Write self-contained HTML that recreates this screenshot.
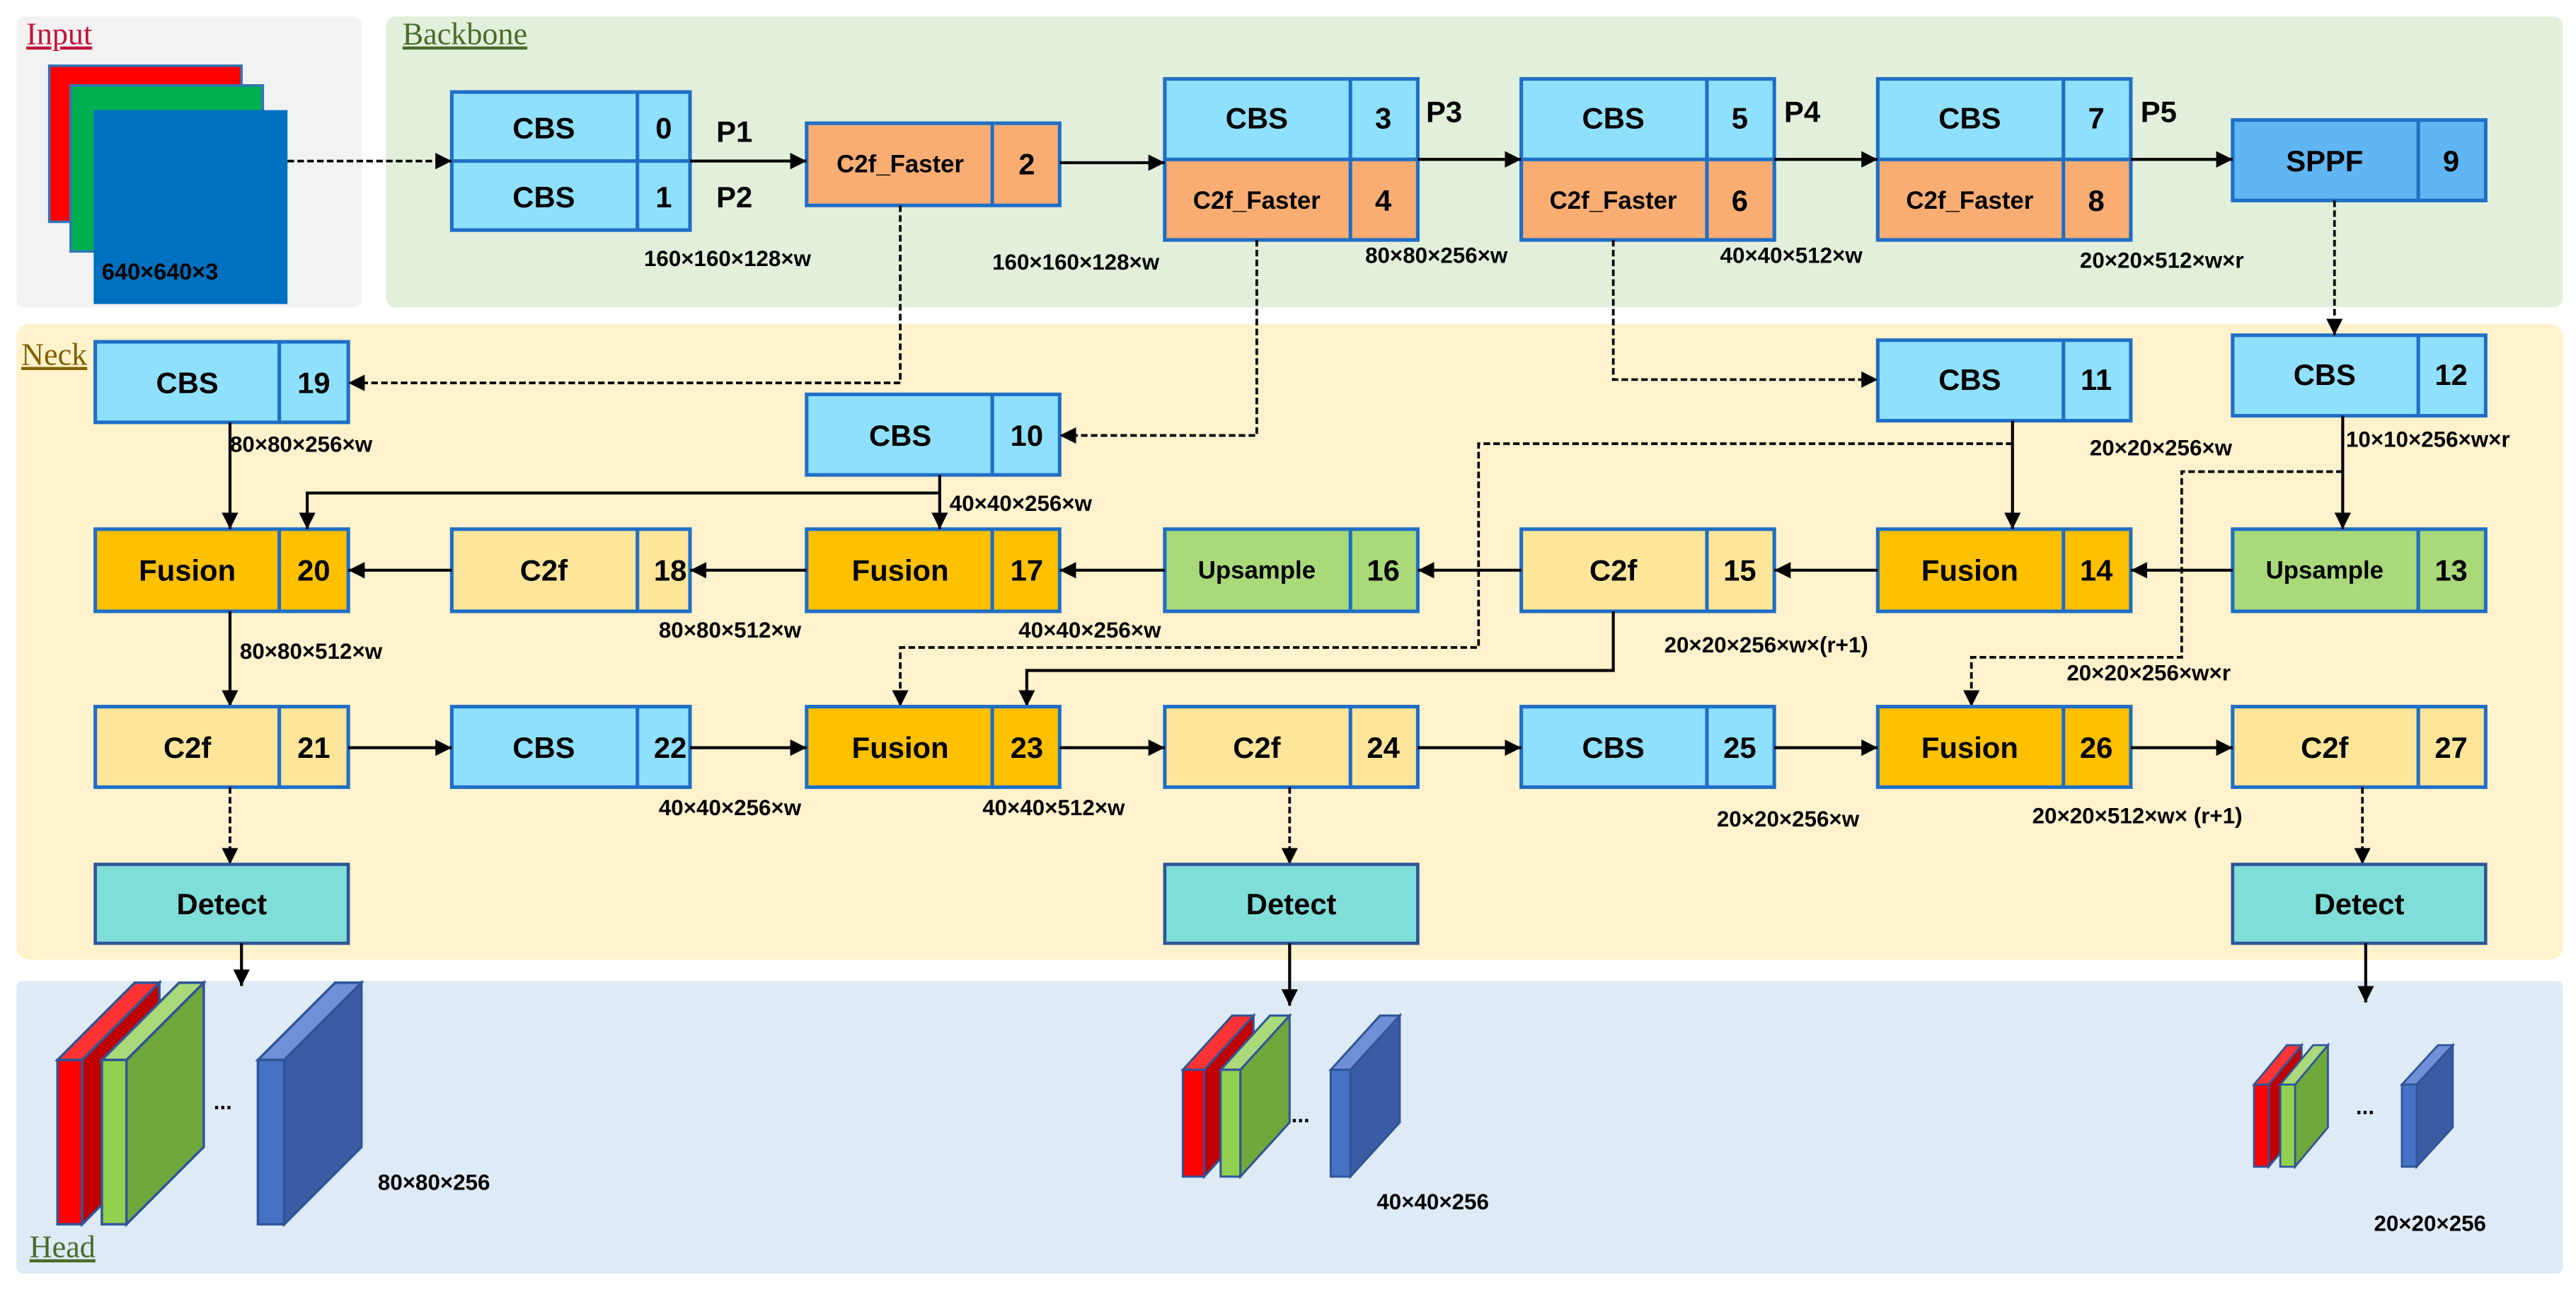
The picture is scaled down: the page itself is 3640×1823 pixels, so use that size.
<!DOCTYPE html>
<html><head><meta charset="utf-8"><style>
html,body{margin:0;padding:0;background:#fff;}
svg{display:block;}
text{font-family:"Liberation Sans",Arial,sans-serif;font-weight:bold;fill:#000;}
.m{font-size:18px;text-anchor:middle;dominant-baseline:central;}
.s{font-size:15px;text-anchor:middle;dominant-baseline:central;}
.l{font-size:13.5px;}
.b{stroke:#1f6fc5;stroke-width:2.2;}
.ln{stroke:#000;stroke-width:1.8;fill:none;}
.d{stroke:#000;stroke-width:1.6;fill:none;stroke-dasharray:4,2;}
.tt{font-family:"Liberation Serif",serif;font-weight:normal;font-size:19px;}
</style></head><body>
<svg width="3640" height="1823" viewBox="0 0 1568 785" preserveAspectRatio="none" xmlns="http://www.w3.org/2000/svg">
<defs>
<marker id="a" markerUnits="userSpaceOnUse" markerWidth="12" markerHeight="12" refX="10" refY="5" orient="auto"><path d="M0,0 L10,5 L0,10 z" fill="#000"/></marker>
</defs>
<!-- panels -->
<rect x="10" y="10" width="210" height="177" rx="5" fill="#f2f2f2"/>
<rect x="235" y="10" width="1325" height="177" rx="6" fill="#e2efda"/>
<rect x="10" y="197" width="1550" height="387" rx="8" fill="#fff2cc"/>
<rect x="10" y="597" width="1550" height="178" rx="4" fill="#deeaf6"/>
<!-- titles -->
<text x="16" y="27" class="tt" fill="#c00000" style="fill:#c0143c;text-decoration:underline">Input</text>
<text x="245" y="27" class="tt" style="fill:#4a6b2b;text-decoration:underline">Backbone</text>
<text x="13" y="222" class="tt" style="fill:#7f6000;text-decoration:underline">Neck</text>
<text x="18" y="765" class="tt" style="fill:#4a6b2b;text-decoration:underline">Head</text>
<!-- input stack -->
<rect x="30" y="40" width="117" height="95" fill="#ff0000" stroke="#2e75b6" stroke-width="1.5"/>
<rect x="43" y="52" width="117" height="101" fill="#00b050" stroke="#2e75b6" stroke-width="1.5"/>
<rect x="57" y="67" width="118" height="118" fill="#0070c0"/>
<text x="62" y="170" class="l" style="font-size:14px">640×640×3</text>

<!-- backbone blocks -->
<g>
<rect x="275" y="56" width="145" height="84" fill="#8fe0ff" class="b"/>
<line x1="275" y1="98" x2="420" y2="98" class="b"/><line x1="388" y1="56" x2="388" y2="140" class="b"/>
<text x="331" y="78" class="m">CBS</text><text x="404" y="78" class="m">0</text>
<text x="331" y="120" class="m">CBS</text><text x="404" y="120" class="m">1</text>
</g>
<text x="436" y="80" class="m" style="text-anchor:start">P1</text>
<text x="436" y="120" class="m" style="text-anchor:start">P2</text>

<rect x="491" y="75" width="154" height="50" fill="#f9ad73" class="b"/><line x1="604" y1="75" x2="604" y2="125" class="b"/>
<text x="548" y="100" class="s">C2f_Faster</text><text x="625" y="100" class="m">2</text>

<rect x="709" y="48" width="154" height="98" fill="#8fe0ff" class="b"/>
<rect x="709" y="97" width="154" height="49" fill="#f9ad73" class="b"/><line x1="822" y1="48" x2="822" y2="146" class="b"/>
<text x="765" y="72" class="m">CBS</text><text x="842" y="72" class="m">3</text>
<text x="765" y="122" class="s">C2f_Faster</text><text x="842" y="122" class="m">4</text>
<text x="868" y="68" class="m" style="text-anchor:start">P3</text>

<rect x="926" y="48" width="154" height="98" fill="#8fe0ff" class="b"/>
<rect x="926" y="97" width="154" height="49" fill="#f9ad73" class="b"/><line x1="1039" y1="48" x2="1039" y2="146" class="b"/>
<text x="982" y="72" class="m">CBS</text><text x="1059" y="72" class="m">5</text>
<text x="982" y="122" class="s">C2f_Faster</text><text x="1059" y="122" class="m">6</text>
<text x="1086" y="68" class="m" style="text-anchor:start">P4</text>

<rect x="1143" y="48" width="154" height="98" fill="#8fe0ff" class="b"/>
<rect x="1143" y="97" width="154" height="49" fill="#f9ad73" class="b"/><line x1="1256" y1="48" x2="1256" y2="146" class="b"/>
<text x="1199" y="72" class="m">CBS</text><text x="1276" y="72" class="m">7</text>
<text x="1199" y="122" class="s">C2f_Faster</text><text x="1276" y="122" class="m">8</text>
<text x="1303" y="68" class="m" style="text-anchor:start">P5</text>

<rect x="1359" y="73" width="154" height="49" fill="#5fb6f2" class="b"/><line x1="1472" y1="73" x2="1472" y2="122" class="b"/>
<text x="1415" y="98" class="m" fill="#000">SPPF</text><text x="1492" y="98" class="m">9</text>

<text x="392" y="162" class="l">160×160×128×w</text>
<text x="604" y="164" class="l">160×160×128×w</text>
<text x="831" y="160" class="l">80×80×256×w</text>
<text x="1047" y="160" class="l">40×40×512×w</text>
<text x="1266" y="163" class="l">20×20×512×w×r</text>

<!-- backbone arrows -->
<line x1="175" y1="98" x2="275" y2="98" class="d" marker-end="url(#a)"/>
<line x1="420" y1="98" x2="491" y2="98" class="ln" marker-end="url(#a)"/>
<line x1="645" y1="99" x2="709" y2="99" class="ln" marker-end="url(#a)"/>
<line x1="863" y1="97" x2="926" y2="97" class="ln" marker-end="url(#a)"/>
<line x1="1080" y1="97" x2="1143" y2="97" class="ln" marker-end="url(#a)"/>
<line x1="1297" y1="97" x2="1359" y2="97" class="ln" marker-end="url(#a)"/>

<!-- neck row 2 -->
<rect x="58" y="208" width="154" height="49" fill="#8fe0ff" class="b"/><line x1="170" y1="208" x2="170" y2="257" class="b"/>
<text x="114" y="233" class="m">CBS</text><text x="191" y="233" class="m">19</text>
<rect x="491" y="240" width="154" height="49" fill="#8fe0ff" class="b"/><line x1="604" y1="240" x2="604" y2="289" class="b"/>
<text x="548" y="265" class="m">CBS</text><text x="625" y="265" class="m">10</text>
<rect x="1143" y="207" width="154" height="49" fill="#8fe0ff" class="b"/><line x1="1256" y1="207" x2="1256" y2="256" class="b"/>
<text x="1199" y="231" class="m">CBS</text><text x="1276" y="231" class="m">11</text>
<rect x="1359" y="204" width="154" height="49" fill="#8fe0ff" class="b"/><line x1="1472" y1="204" x2="1472" y2="253" class="b"/>
<text x="1415" y="228" class="m">CBS</text><text x="1492" y="228" class="m">12</text>

<text x="140" y="275" class="l">80×80×256×w</text>
<text x="578" y="311" class="l">40×40×256×w</text>
<text x="1272" y="277" class="l">20×20×256×w</text>
<text x="1428" y="272" class="l">10×10×256×w×r</text>

<polyline points="548,125 548,233 212,233" class="d" marker-end="url(#a)"/>
<polyline points="765,146 765,265 645,265" class="d" marker-end="url(#a)"/>
<polyline points="982,146 982,231 1143,231" class="d" marker-end="url(#a)"/>
<line x1="1421" y1="122" x2="1421" y2="204" class="d" marker-end="url(#a)"/>

<!-- row 3 -->
<rect x="58" y="322" width="154" height="50" fill="#ffc000" class="b"/><line x1="170" y1="322" x2="170" y2="372" class="b"/>
<text x="114" y="347" class="m">Fusion</text><text x="191" y="347" class="m">20</text>
<rect x="275" y="322" width="145" height="50" fill="#fee599" class="b"/><line x1="388" y1="322" x2="388" y2="372" class="b"/>
<text x="331" y="347" class="m">C2f</text><text x="408" y="347" class="m">18</text>
<rect x="491" y="322" width="154" height="50" fill="#ffc000" class="b"/><line x1="604" y1="322" x2="604" y2="372" class="b"/>
<text x="548" y="347" class="m">Fusion</text><text x="625" y="347" class="m">17</text>
<rect x="709" y="322" width="154" height="50" fill="#a9d979" class="b"/><line x1="822" y1="322" x2="822" y2="372" class="b"/>
<text x="765" y="347" class="s">Upsample</text><text x="842" y="347" class="m">16</text>
<rect x="926" y="322" width="154" height="50" fill="#fee599" class="b"/><line x1="1039" y1="322" x2="1039" y2="372" class="b"/>
<text x="982" y="347" class="m">C2f</text><text x="1059" y="347" class="m">15</text>
<rect x="1143" y="322" width="154" height="50" fill="#ffc000" class="b"/><line x1="1256" y1="322" x2="1256" y2="372" class="b"/>
<text x="1199" y="347" class="m">Fusion</text><text x="1276" y="347" class="m">14</text>
<rect x="1359" y="322" width="154" height="50" fill="#a9d979" class="b"/><line x1="1472" y1="322" x2="1472" y2="372" class="b"/>
<text x="1415" y="347" class="s">Upsample</text><text x="1492" y="347" class="m">13</text>

<line x1="1359" y1="347" x2="1297" y2="347" class="ln" marker-end="url(#a)"/>
<line x1="1143" y1="347" x2="1080" y2="347" class="ln" marker-end="url(#a)"/>
<line x1="926" y1="347" x2="863" y2="347" class="ln" marker-end="url(#a)"/>
<line x1="709" y1="347" x2="645" y2="347" class="ln" marker-end="url(#a)"/>
<line x1="491" y1="347" x2="420" y2="347" class="ln" marker-end="url(#a)"/>
<line x1="275" y1="347" x2="212" y2="347" class="ln" marker-end="url(#a)"/>

<line x1="140" y1="257" x2="140" y2="322" class="ln" marker-end="url(#a)"/>
<line x1="572" y1="289" x2="572" y2="322" class="ln" marker-end="url(#a)"/>
<polyline points="572,300 187,300 187,322" class="ln" marker-end="url(#a)"/>
<line x1="1225" y1="256" x2="1225" y2="322" class="ln" marker-end="url(#a)"/>
<line x1="1426" y1="253" x2="1426" y2="322" class="ln" marker-end="url(#a)"/>

<polyline points="1225,270 900,270 900,394 548,394 548,430" class="d" marker-end="url(#a)"/>
<polyline points="982,372 982,408 625,408 625,430" class="ln" marker-end="url(#a)"/>
<polyline points="1426,287 1328,287 1328,400 1200,400 1200,430" class="d" marker-end="url(#a)"/>

<text x="401" y="388" class="l">80×80×512×w</text>
<text x="620" y="388" class="l">40×40×256×w</text>
<text x="1013" y="397" class="l">20×20×256×w×(r+1)</text>
<text x="146" y="401" class="l">80×80×512×w</text>
<text x="1258" y="414" class="l">20×20×256×w×r</text>

<line x1="140" y1="372" x2="140" y2="430" class="ln" marker-end="url(#a)"/>

<!-- row 4 -->
<rect x="58" y="430" width="154" height="49" fill="#fee599" class="b"/><line x1="170" y1="430" x2="170" y2="479" class="b"/>
<text x="114" y="455" class="m">C2f</text><text x="191" y="455" class="m">21</text>
<rect x="275" y="430" width="145" height="49" fill="#8fe0ff" class="b"/><line x1="388" y1="430" x2="388" y2="479" class="b"/>
<text x="331" y="455" class="m">CBS</text><text x="408" y="455" class="m">22</text>
<rect x="491" y="430" width="154" height="49" fill="#ffc000" class="b"/><line x1="604" y1="430" x2="604" y2="479" class="b"/>
<text x="548" y="455" class="m">Fusion</text><text x="625" y="455" class="m">23</text>
<rect x="709" y="430" width="154" height="49" fill="#fee599" class="b"/><line x1="822" y1="430" x2="822" y2="479" class="b"/>
<text x="765" y="455" class="m">C2f</text><text x="842" y="455" class="m">24</text>
<rect x="926" y="430" width="154" height="49" fill="#8fe0ff" class="b"/><line x1="1039" y1="430" x2="1039" y2="479" class="b"/>
<text x="982" y="455" class="m">CBS</text><text x="1059" y="455" class="m">25</text>
<rect x="1143" y="430" width="154" height="49" fill="#ffc000" class="b"/><line x1="1256" y1="430" x2="1256" y2="479" class="b"/>
<text x="1199" y="455" class="m">Fusion</text><text x="1276" y="455" class="m">26</text>
<rect x="1359" y="430" width="154" height="49" fill="#fee599" class="b"/><line x1="1472" y1="430" x2="1472" y2="479" class="b"/>
<text x="1415" y="455" class="m">C2f</text><text x="1492" y="455" class="m">27</text>

<line x1="212" y1="455" x2="275" y2="455" class="ln" marker-end="url(#a)"/>
<line x1="420" y1="455" x2="491" y2="455" class="ln" marker-end="url(#a)"/>
<line x1="645" y1="455" x2="709" y2="455" class="ln" marker-end="url(#a)"/>
<line x1="863" y1="455" x2="926" y2="455" class="ln" marker-end="url(#a)"/>
<line x1="1080" y1="455" x2="1143" y2="455" class="ln" marker-end="url(#a)"/>
<line x1="1297" y1="455" x2="1359" y2="455" class="ln" marker-end="url(#a)"/>

<text x="401" y="496" class="l">40×40×256×w</text>
<text x="598" y="496" class="l">40×40×512×w</text>
<text x="1045" y="503" class="l">20×20×256×w</text>
<text x="1237" y="501" class="l">20×20×512×w×  (r+1)</text>

<!-- detect -->
<line x1="140" y1="479" x2="140" y2="526" class="d" marker-end="url(#a)"/>
<line x1="785" y1="479" x2="785" y2="526" class="d" marker-end="url(#a)"/>
<line x1="1438" y1="479" x2="1438" y2="526" class="d" marker-end="url(#a)"/>
<rect x="58" y="526" width="154" height="48" fill="#80ded9" stroke="#2f5597" stroke-width="2"/>
<text x="135" y="550" class="m">Detect</text>
<rect x="709" y="526" width="154" height="48" fill="#80ded9" stroke="#2f5597" stroke-width="2"/>
<text x="786" y="550" class="m">Detect</text>
<rect x="1359" y="526" width="154" height="48" fill="#80ded9" stroke="#2f5597" stroke-width="2"/>
<text x="1436" y="550" class="m">Detect</text>

<line x1="147" y1="574" x2="147" y2="600" class="ln" marker-end="url(#a)"/>
<line x1="785" y1="574" x2="785" y2="612" class="ln" marker-end="url(#a)"/>
<line x1="1440" y1="574" x2="1440" y2="610" class="ln" marker-end="url(#a)"/>

<!-- head group 1 (offset 47,-47) -->
<g stroke="#2f5597" stroke-width="1.5">
<polygon points="50,645 97,598 97,698 50,745" fill="#c00000"/>
<polygon points="35,645 50,645 97,598 82,598" fill="#ff3333"/>
<rect x="35" y="645" width="15" height="100" fill="#ff0000"/>
<polygon points="77,645 124,598 124,698 77,745" fill="#70a83c"/>
<polygon points="62,645 77,645 124,598 109,598" fill="#a9d979"/>
<rect x="62" y="645" width="15" height="100" fill="#92d050"/>
<polygon points="173,645 220,598 220,698 173,745" fill="#3a5ca5"/>
<polygon points="157,645 173,645 220,598 204,598" fill="#6f8fd6"/>
<rect x="157" y="645" width="16" height="100" fill="#4472c4"/>
</g>
<text x="130" y="675" class="l">...</text>
<text x="230" y="724" class="l">80×80×256</text>

<!-- head group 2 (offset 30,-33) -->
<g stroke="#2f5597" stroke-width="1.3">
<polygon points="733,651 763,618 763,683 733,716" fill="#c00000"/>
<polygon points="720,651 733,651 763,618 750,618" fill="#ff3333"/>
<rect x="720" y="651" width="13" height="65" fill="#ff0000"/>
<polygon points="755,651 785,618 785,683 755,716" fill="#70a83c"/>
<polygon points="743,651 755,651 785,618 773,618" fill="#a9d979"/>
<rect x="743" y="651" width="12" height="65" fill="#92d050"/>
<polygon points="822,651 852,618 852,683 822,716" fill="#3a5ca5"/>
<polygon points="810,651 822,651 852,618 840,618" fill="#6f8fd6"/>
<rect x="810" y="651" width="12" height="65" fill="#4472c4"/>
</g>
<text x="786" y="683" class="l">...</text>
<text x="838" y="736" class="l">40×40×256</text>

<!-- head group 3 (offset 20,-24) -->
<g stroke="#2f5597" stroke-width="1.2">
<polygon points="1381,660 1401,636 1401,686 1381,710" fill="#c00000"/>
<polygon points="1372,660 1381,660 1401,636 1392,636" fill="#ff3333"/>
<rect x="1372" y="660" width="9" height="50" fill="#ff0000"/>
<polygon points="1397,660 1417,636 1417,686 1397,710" fill="#70a83c"/>
<polygon points="1388,660 1397,660 1417,636 1408,636" fill="#a9d979"/>
<rect x="1388" y="660" width="9" height="50" fill="#92d050"/>
<polygon points="1471,660 1493,636 1493,686 1471,710" fill="#3a5ca5"/>
<polygon points="1462,660 1471,660 1493,636 1484,636" fill="#6f8fd6"/>
<rect x="1462" y="660" width="9" height="50" fill="#4472c4"/>
</g>
<text x="1434" y="678" class="l">...</text>
<text x="1445" y="749" class="l">20×20×256</text>
</svg>
</body></html>
